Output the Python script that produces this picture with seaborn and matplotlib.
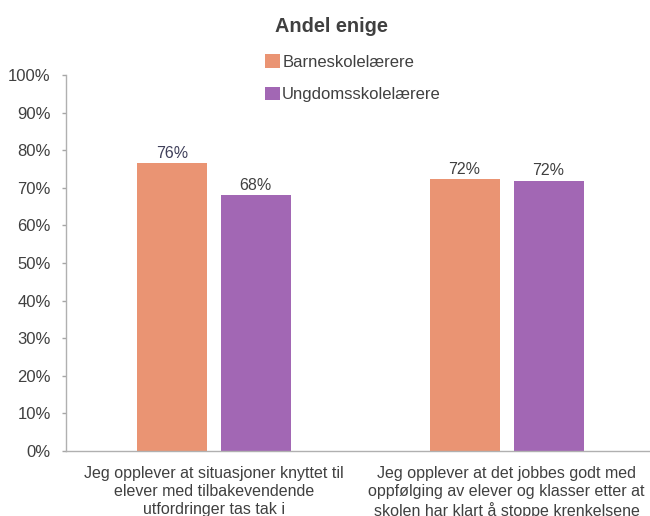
import matplotlib
matplotlib.use("Agg")
import matplotlib.pyplot as plt
import seaborn as sns
import pandas as pd
from matplotlib.ticker import PercentFormatter

# data
categories = [
    "Jeg opplever at situasjoner knyttet til\nelever med tilbakevendende\nutfordringer tas tak i",
    "Jeg opplever at det jobbes godt med\noppfølging av elever og klasser etter at\nskolen har klart å stoppe krenkelsene",
]
groups = ["Barneskolelærere", "Ungdomsskolelærere"]
barne = [76.5, 72.3]
ungdom = [68.0, 71.9]
value_labels = ["76%", "72%", "68%", "72%"]

colors = {"Barneskolelærere": "#EA9473", "Ungdomsskolelærere": "#A267B4"}

df = pd.DataFrame({
    "Kategori": categories * 2,
    "Gruppe": [groups[0]] * 2 + [groups[1]] * 2,
    "Andel": barne + ungdom,
})

sns.set_style("white")
plt.rcParams["font.family"] = ["Liberation Sans", "DejaVu Sans"]
text_col = "#404040"

fig = plt.figure(figsize=(6.5, 5.16), dpi=100)
ax = fig.add_axes([66 / 650, 65 / 516, 584 / 650, 376 / 516])

sns.barplot(data=df, x="Kategori", y="Andel", hue="Gruppe", palette=colors,
            width=0.574, gap=0.167, saturation=1, linewidth=0, ax=ax, legend=True)

ax.set_ylim(0, 100)
ax.set_xlim(-0.505, 1.49)
ax.set_yticks(range(0, 101, 10))
ax.yaxis.set_major_formatter(PercentFormatter(decimals=0))
ax.set_xlabel("")
ax.set_ylabel("")
ax.tick_params(axis="y", colors="#a6a6a6", labelcolor=text_col, labelsize=12,
               length=3, width=1, direction="out", left=True, pad=8)
ax.tick_params(axis="x", labelcolor=text_col, labelsize=11.5, length=0, pad=11)
for t in ax.get_xticklabels():
    t.set_linespacing(1.22)

for s in ["top", "right"]:
    ax.spines[s].set_visible(False)
for s in ["left", "bottom"]:
    ax.spines[s].set_color("#b0b0b0")
    ax.spines[s].set_linewidth(1)

label_colors = ["#3f3f5a", text_col, text_col, text_col]
i = 0
for cont in ax.containers:
    for bar in cont:
        ax.text(bar.get_x() + bar.get_width() / 2, bar.get_height() + 0.7,
                value_labels[i], ha="center", va="bottom", fontsize=11.5,
                color=label_colors[i])
        i += 1

leg = ax.legend(loc="upper left", bbox_to_anchor=(0.341, 1.055), frameon=False,
                fontsize=12, handlelength=0.9, handleheight=0.9,
                handletextpad=0.12, labelspacing=1.0, borderaxespad=0,
                borderpad=0)
for t in leg.get_texts():
    t.set_color(text_col)

fig.text(331 / 650, 1 - 27 / 516, "Andel enige", ha="center", va="center",
         fontsize=14.3, fontweight="bold", color=text_col)

fig.savefig("out.png", dpi=100)
